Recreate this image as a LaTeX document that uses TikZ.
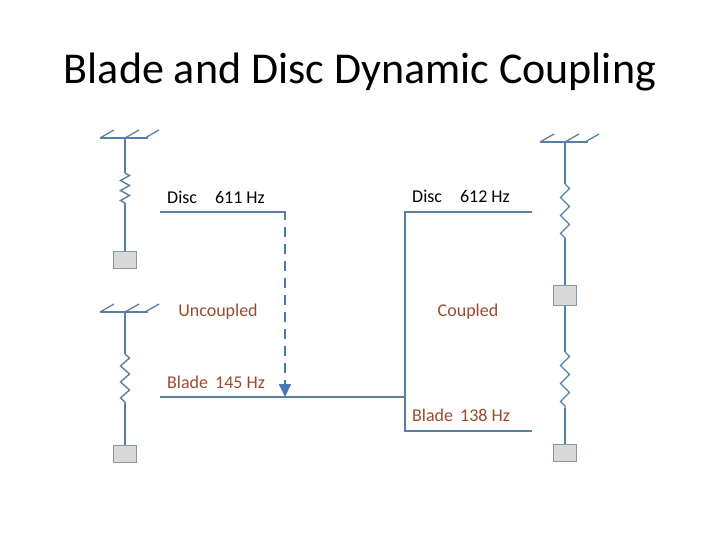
\documentclass[tikz,border=0pt]{standalone}
\usepackage{fontspec}
\setmainfont{Carlito}
\usepackage{xcolor}
\usepackage{tikz}
\usetikzlibrary{arrows.meta,decorations.pathmorphing,calc}

\definecolor{linecol}{HTML}{5A7EA6}
\definecolor{arrowcol}{HTML}{4A78B5}
\definecolor{browntext}{HTML}{9B4A2E}
\definecolor{boxfill}{HTML}{D9D9D9}
\definecolor{boxline}{HTML}{8496AA}

\tikzset{
  wire/.style={draw=linecol,line width=1.8pt},
  spring/.style={draw=linecol,line width=1.4pt,decorate,
    decoration={zigzag,segment length=#1,amplitude=4.5pt}},
  massbox/.style={draw=boxline,fill=boxfill,line width=1pt,minimum width=23pt,
    minimum height=17pt,inner sep=0pt},
  freqtext/.style={font=\fontsize{18}{21}\selectfont,inner sep=0pt},
}

\begin{document}
\begin{tikzpicture}[x=1pt,y=-1pt]
            \useasboundingbox (0,0) rectangle (720,540);
            %标题
            \node (title) at (360,72) {\fontsize{44}{52}\selectfont Blade and Disc Dynamic Coupling};
            %绘制三个固定端
            \foreach \n/\x/\y in {g1/125/138,g2/125/312,g3/565/142}{
                \coordinate (\n) at (\x,\y);
                \draw[linecol,line width=1.3pt] (\x-25,\y) -- (\x+23,\y);
                \foreach \d in {-25,0,20}{\draw[linecol,line width=1.3pt] (\x+\d,\y) -- ++(14,-8);}
            }
            %绘制质量块
            \node[massbox] (m1) at (125,260) {};
            \node[massbox] (m2) at (125,454) {};
            \node[massbox,minimum height=20pt] (m3) at (565,295) {};
            \node[massbox] (m4) at (565,453) {};
            %弹簧两端
            \coordinate (s1a) at (125,173); \coordinate (s1b) at (125,203);
            \coordinate (s2a) at (125,354); \coordinate (s2b) at (125,403);
            \coordinate (s3a) at (565,184); \coordinate (s3b) at (565,238);
            \coordinate (s4a) at (565,352); \coordinate (s4b) at (565,408);
            %绘制弹簧
            \draw[linecol,line width=1.3pt] (g1) -- (s1a) (s1b) -- (m1.north);
            \draw[spring=10pt] (s1a) -- (s1b);
            \draw[linecol,line width=1.3pt] (g2) -- (s2a) (s2b) -- (m2.north);
            \draw[spring=16pt] (s2a) -- (s2b);
            \draw[linecol,line width=1.3pt] (g3) -- (s3a) (s3b) -- (m3.north);
            \draw[spring=18pt] (s3a) -- (s3b);
            \draw[linecol,line width=1.3pt] (m3.south) -- (s4a) (s4b) -- (m4.north);
            \draw[spring=18pt] (s4a) -- (s4b);
            %频率线的端点
            \coordinate (d1) at (160,212); \coordinate (d1e) at (285,212);
            \coordinate (b1) at (160,397); \coordinate (b1e) at (285,397);
            \coordinate (j) at (405,397);
            \coordinate (d2) at (532,212); \coordinate (d2c) at (405,212);
            \coordinate (b2) at (532,431); \coordinate (b2c) at (405,431);
            %非耦合频率
            \draw[wire] (d1) -- (d1e) -- ++(0,8);
            \draw[wire,arrowcol,dash pattern=on 10pt off 7pt,-{Triangle[width=12pt,length=13pt]}]
                ($(d1e)+(0,15)$) -- (b1e);
            \draw[wire] (b1) -- (j);
            %耦合频率
            \draw[wire] (d2) -- (d2c) -- (b2c) -- (b2);
            %文字
            \node[freqtext,anchor=west] (A) at (167,197) {Disc\hspace{18pt}611 Hz};
            \node[freqtext,anchor=west,text=browntext] (B) at (167,382) {Blade\hspace{7pt}145 Hz};
            \node[freqtext,text=browntext] (C) at (218,312) {Uncoupled};
            \node[freqtext,anchor=west] (D) at (412,196) {Disc\hspace{18pt}612 Hz};
            \node[freqtext,text=browntext] (E) at (468,312) {Coupled};
            \node[freqtext,anchor=west,text=browntext] (F) at (412,415) {Blade\hspace{7pt}138 Hz};
        \end{tikzpicture}
\end{document}
